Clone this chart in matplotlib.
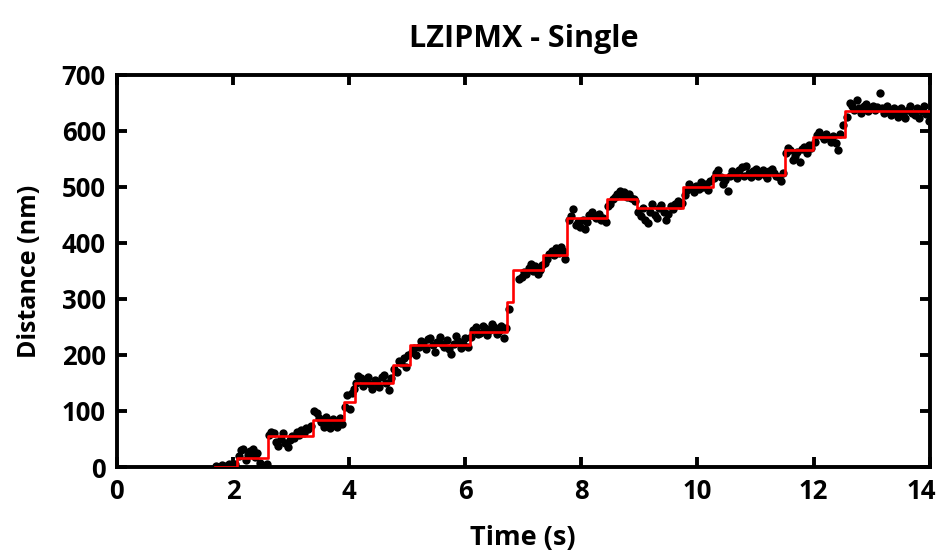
import matplotlib
matplotlib.use("Agg")
import matplotlib.pyplot as plt
from matplotlib.transforms import ScaledTranslation

plt.rcParams['font.family'] = ['Open Sans', 'DejaVu Sans']
plt.rcParams['font.weight'] = 'bold'

# step fit (start time of each plateau, plateau level in nm)
step_t = [1.69, 2.07, 2.60, 3.38, 3.91, 4.10, 4.75, 5.05, 6.08, 6.72, 6.82,
          7.34, 7.75, 8.44, 8.95, 9.75, 10.26, 11.50, 11.99, 12.54, 14.0]
step_d = [0, 16, 55, 84, 116, 150, 182, 218, 241, 295, 352,
          379, 445, 479, 463, 500, 521, 566, 589, 636, 636]

# raw tracked positions
dot_t = [1.70, 1.76, 1.82, 1.88, 1.94, 2.00, 2.04,
         2.10, 2.14, 2.18, 2.22, 2.26, 2.30, 2.34, 2.38, 2.42, 2.46, 2.50, 2.54, 2.58,
         2.62, 2.66, 2.70, 2.74, 2.78, 2.82, 2.86, 2.90, 2.94, 2.98, 3.02, 3.06, 3.10,
         3.14, 3.18, 3.22, 3.26, 3.30, 3.34,
         3.40, 3.44, 3.48, 3.52, 3.56, 3.60, 3.64, 3.68, 3.72, 3.76, 3.80, 3.84, 3.88,
         3.93, 3.97, 4.01, 4.05, 4.08,
         4.12, 4.16, 4.20, 4.24, 4.28, 4.32, 4.36, 4.40, 4.44, 4.48, 4.52, 4.56, 4.60,
         4.64, 4.68, 4.72,
         4.78, 4.82, 4.86, 4.90, 4.94, 4.98, 5.02,
         5.08, 5.12, 5.16, 5.20, 5.24, 5.28, 5.32, 5.36, 5.40, 5.44, 5.48, 5.52, 5.56,
         5.60, 5.64, 5.68, 5.72, 5.76, 5.80, 5.84, 5.88, 5.92, 5.96, 6.00, 6.04,
         6.10, 6.14, 6.18, 6.22, 6.26, 6.30, 6.34, 6.38, 6.42, 6.46, 6.50, 6.54, 6.58,
         6.62, 6.66, 6.70, 6.76,
         6.93, 6.97, 7.01, 7.05, 7.09, 7.13, 7.17, 7.21, 7.25, 7.29, 7.32,
         7.37, 7.41, 7.45, 7.49, 7.53, 7.57, 7.61, 7.65, 7.69, 7.72,
         7.78, 7.82, 7.86, 7.90, 7.94, 7.98, 8.02, 8.06, 8.10, 8.14, 8.18, 8.22, 8.26,
         8.30, 8.34, 8.38, 8.42,
         8.46, 8.50, 8.54, 8.58, 8.62, 8.66, 8.70, 8.74, 8.78, 8.82, 8.86, 8.90, 8.93,
         8.98, 9.02, 9.06, 9.10, 9.14, 9.18, 9.22, 9.26, 9.30, 9.34, 9.38, 9.42, 9.46,
         9.50, 9.54, 9.58, 9.62, 9.66, 9.70, 9.73,
         9.78, 9.82, 9.86, 9.90, 9.94, 9.98, 10.02, 10.06, 10.10, 10.14, 10.18, 10.22,
         10.28, 10.32, 10.36, 10.40, 10.44, 10.48, 10.52, 10.56, 10.60, 10.64, 10.68,
         10.72, 10.76, 10.80, 10.84, 10.88, 10.92, 10.96, 11.00, 11.04, 11.08, 11.12,
         11.16, 11.20, 11.24, 11.28, 11.32, 11.36, 11.40, 11.44, 11.48,
         11.52, 11.56, 11.60, 11.64, 11.68, 11.72, 11.76, 11.80, 11.84, 11.88, 11.92, 11.96,
         12.02, 12.06, 12.10, 12.14, 12.18, 12.22, 12.26, 12.30, 12.34, 12.38, 12.42,
         12.46, 12.50,
         12.58, 12.62, 12.66, 12.70, 12.74, 12.78, 12.82, 12.86, 12.90, 12.94, 12.98,
         13.02, 13.06, 13.10, 13.14, 13.18, 13.22, 13.26, 13.30, 13.34, 13.38, 13.42,
         13.46, 13.50, 13.54, 13.58, 13.62, 13.66, 13.70, 13.74, 13.78, 13.82, 13.86,
         13.90, 13.94, 13.98]
dot_d = [2, 0, 4, 1, 5, 2, 6,
         20, 30, 32, 12, 22, 28, 33, 18, 25, 8, 3, 2, 5,
         58, 62, 60, 45, 38, 50, 60, 42, 35, 48, 55, 52, 62,
         58, 66, 60, 70, 68, 74,
         100, 96, 88, 80, 72, 90, 78, 70, 86, 80, 72, 88, 76,
         108, 128, 104, 132, 140,
         150, 162, 158, 145, 152, 160, 148, 140, 155, 150, 142, 160, 165,
         150, 138, 158,
         175, 170, 190, 185, 195, 178, 200,
         205, 212, 200, 215, 225, 222, 210, 228, 230, 218, 205, 224, 232,
         220, 215, 226, 210, 202, 220, 234, 225, 212, 220, 230, 215,
         232, 245, 250, 238, 240, 252, 248, 236, 244, 255, 250, 238, 242,
         252, 230, 248, 282,
         335, 340, 348, 345, 355, 362, 350, 358, 345, 352, 360,
         365, 372, 380, 385, 378, 390, 382, 392, 386, 372,
         440, 448, 460, 432, 438, 428, 440, 425, 438, 450, 455, 448, 445,
         452, 440, 445, 438,
         465, 470, 478, 482, 488, 492, 485, 490, 482, 488, 480, 478, 475,
         455, 448, 462, 440, 435, 455, 470, 450, 445, 462, 468, 455, 440,
         452, 465, 460, 470, 475, 468, 472,
         485, 495, 505, 498, 490, 502, 496, 508, 500, 505, 495, 510,
         515, 525, 530, 518, 505, 512, 492, 520, 528, 522, 515,
         530, 535, 520, 538, 525, 518, 528, 532, 520, 526, 530,
         522, 515, 528, 532, 525, 520, 518, 510, 525,
         560, 570, 565, 548, 555, 562, 545, 568, 572, 560, 575, 570,
         580, 592, 598, 590, 585, 595, 588, 580, 590, 578, 565,
         595, 610,
         625, 650, 645, 638, 655, 640, 632, 645, 648, 635, 640,
         645, 638, 642, 668, 640, 632, 645, 636, 628, 640, 632,
         625, 640, 630, 622, 638, 645, 632, 628, 640, 622, 635,
         645, 630, 618]

x_ticks = [0, 2, 4, 6, 8, 10, 12, 14]
y_ticks = [0, 100, 200, 300, 400, 500, 600, 700]

fig = plt.figure(figsize=(9.42, 5.54), dpi=100)
ax = fig.add_axes([0.124, 0.157, 0.863, 0.708])

ax.scatter(dot_t, dot_d, s=36, color='black', zorder=2, linewidths=0)
ax.step(step_t, step_d, where='post', color='red', lw=1.9, zorder=3)

ax.set_xlim(0, 14)
ax.set_ylim(0, 700)
ax.set_xticks(x_ticks)
ax.set_yticks(y_ticks)

for sp in ax.spines.values():
    sp.set_linewidth(2.8)
ax.tick_params(direction='in', top=True, right=True, length=7, width=2.8,
               labelsize=18.5, pad=8)

# last x label sits a little left so it stays inside the figure
last = ax.get_xticklabels()[-1]
last.set_transform(last.get_transform() + ScaledTranslation(-6 / 72, 0, fig.dpi_scale_trans))

ax.set_title("LZIPMX - Single", fontsize=22, fontweight='bold', pad=20)
ax.set_xlabel("Time (s)", fontsize=19.5, fontweight='bold', labelpad=14)
ax.set_ylabel("Distance (nm)", fontsize=18, fontweight='bold', labelpad=14)

fig.savefig("out.png", dpi=100)
